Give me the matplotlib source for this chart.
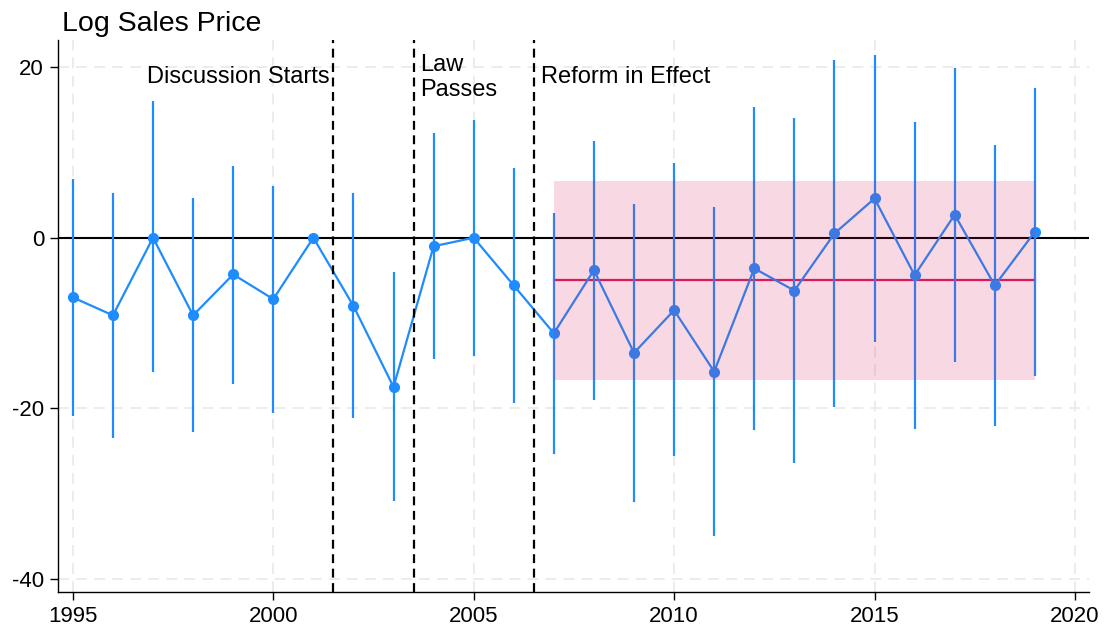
import matplotlib
matplotlib.use("Agg")
import matplotlib.pyplot as plt
import numpy as np

plt.rcParams['font.family'] = ['Liberation Sans', 'DejaVu Sans']

# event-study estimates (2001 is the reference year, no interval)
years = np.arange(1995, 2020)
est = [-7.0, -9.1, 0.0, -9.1, -4.3, -7.2, 0.0, -8.0, -17.5, -1.0,
       0.0, -5.6, -11.2, -3.8, -13.5, -8.5, -15.7, -3.6, -6.2, 0.5,
       4.6, -4.4, 2.7, -5.6, 0.7]
ci_lo = [-20.9, -23.5, -15.8, -22.8, -17.2, -20.6, np.nan, -21.1, -30.9, -14.2,
         -13.9, -19.4, -25.4, -19.0, -31.0, -25.6, -35.0, -22.6, -26.4, -19.9,
         -12.2, -22.4, -14.6, -22.1, -16.2]
ci_hi = [6.9, 5.2, 16.0, 4.7, 8.4, 6.1, np.nan, 5.2, -4.0, 12.3,
         13.8, 8.2, 2.9, 11.3, 4.0, 8.8, 3.6, 15.3, 14.0, 20.8,
         21.4, 13.6, 19.9, 10.9, 17.5]

# pooled post-period effect and its interval
post_start, post_end = 2007, 2019
post_est, post_lo, post_hi = -5.0, -16.7, 6.7

events = [2001.5, 2003.5, 2006.5]
event_labels = ["Discussion Starts", "Law\nPasses", "Reform in Effect"]

blue = "#1E8CFF"
red = "#D81B5C"

fig = plt.figure(figsize=(11.05, 6.33), dpi=100)
ax = fig.add_axes([0.0525, 0.064, 0.933, 0.873])

lo = np.array(ci_lo)
hi = np.array(ci_hi)
ok = ~np.isnan(lo)
ax.vlines(years[ok], lo[ok], hi[ok], color=blue, lw=1.6, zorder=3)
ax.plot(years, est, color=blue, lw=1.6, marker='o', ms=7, zorder=4)

ax.axhline(0, color='black', lw=1.5, zorder=2)
ax.plot([post_start, post_end], [post_est, post_est], color=red, lw=1.6, zorder=2.5)
ax.fill_between([post_start, post_end], post_lo, post_hi, color=red, alpha=0.17,
                lw=0, zorder=5)

for x in events:
    ax.axvline(x, color='black', lw=1.6, dashes=(4, 2.5), zorder=6)

ax.text(events[0] - 0.1, 18.9, event_labels[0], ha='right', va='center', fontsize=17)
ax.text(events[1] + 0.17, 18.8, event_labels[1], ha='left', va='center', fontsize=17,
        linespacing=1.15)
ax.text(events[2] + 0.17, 18.9, event_labels[2], ha='left', va='center', fontsize=17)

ax.set_xlim(1994.63, 2020.35)
ax.set_ylim(-41.6, 23.2)
ax.set_xticks(np.arange(1995, 2021, 5))
ax.set_yticks([20, 0, -20, -40])
ax.set_yticklabels(["20", "0", "-20", "-40"])
ax.tick_params(labelsize=16, length=6, width=1, color='black')
ax.tick_params(axis='y', pad=4)
ax.grid(True, color='#EBEBEB', lw=1.3, dashes=(6, 4))
ax.set_axisbelow(True)
for s in ['top', 'right']:
    ax.spines[s].set_visible(False)
for s in ['left', 'bottom']:
    ax.spines[s].set_linewidth(1)

fig.text(62 / 1105, 1 - 31 / 633, "Log Sales Price", fontsize=20.5, va='baseline')

fig.savefig("out.png", dpi=100)
